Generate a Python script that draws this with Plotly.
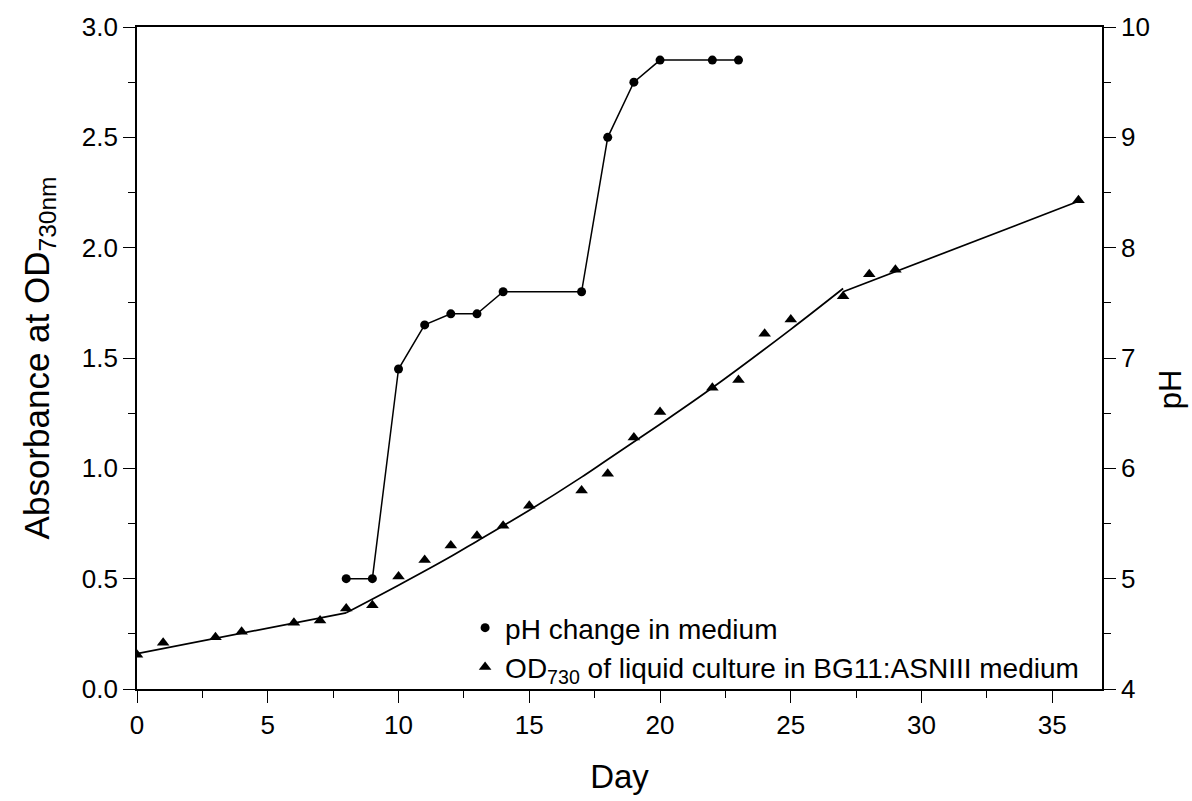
import plotly.graph_objects as go

# OD730 measurements (left axis)
od_day = [0, 1, 3, 4, 6, 7, 8, 9, 10, 11, 12, 13, 14, 15, 17, 18, 19, 20, 22, 23, 24, 25, 27, 28, 29, 36]
od_val = [0.155, 0.21, 0.235, 0.26, 0.30, 0.31, 0.365, 0.38, 0.51, 0.585, 0.65, 0.695, 0.74, 0.83,
          0.90, 0.975, 1.14, 1.255, 1.365, 1.40, 1.61, 1.675, 1.78, 1.88, 1.90, 2.215]

# fitted curve for OD730, in three pieces
fit1_day = [0, 8]
fit1_val = [0.16, 0.345]
fit2_day = [8, 10, 12, 13, 15, 17, 18, 20, 22, 25, 27]
fit2_val = [0.345, 0.47, 0.60, 0.67, 0.81, 0.96, 1.04, 1.20, 1.365, 1.63, 1.815]
fit3_day = [27, 36]
fit3_val = [1.80, 2.21]

# pH measurements (right axis)
ph_day = [8, 9, 10, 11, 12, 13, 14, 17, 18, 19, 20, 22, 23]
ph_val = [5.0, 5.0, 6.9, 7.3, 7.4, 7.4, 7.6, 7.6, 9.0, 9.5, 9.7, 9.7, 9.7]

FONT = "Liberation Sans, Arial, sans-serif"

fig = go.Figure()

for xs, ys, shp in [(fit1_day, fit1_val, "linear"), (fit2_day, fit2_val, "spline"), (fit3_day, fit3_val, "linear")]:
    fig.add_trace(go.Scatter(x=xs, y=ys, mode="lines", line=dict(color="black", width=1.7, shape=shp),
                             showlegend=False, hoverinfo="skip"))
fig.add_trace(go.Scatter(x=ph_day, y=ph_val, mode="lines", line=dict(color="black", width=1.5),
                         yaxis="y2", showlegend=False, hoverinfo="skip"))
fig.add_trace(go.Scatter(x=ph_day, y=ph_val, mode="markers", yaxis="y2",
                         marker=dict(symbol="circle", size=9, color="black"),
                         name="pH change in medium"))
fig.add_trace(go.Scatter(x=od_day, y=od_val, mode="markers",
                         marker=dict(symbol="triangle-up", size=11, color="black"),
                         name="OD<sub>730</sub> of liquid culture in BG11:ASNIII medium"))

axis_common = dict(showline=True, linecolor="black", linewidth=1.6, ticks="outside",
                   ticklen=12, tickwidth=1.4, tickcolor="black", showgrid=False, zeroline=False,
                   tickfont=dict(family=FONT, size=26, color="black"))
minor_common = dict(ticks="outside", ticklen=7, tickwidth=1.3, tickcolor="black")

fig.update_layout(
    width=1192, height=801,
    margin=dict(l=137, r=90, t=26, b=110),
    plot_bgcolor="white", paper_bgcolor="white",
    font=dict(family=FONT, color="black"),
    xaxis=dict(range=[0, 36.9], tickmode="linear", tick0=0, dtick=5,
               minor=dict(dtick=2.5, **minor_common),
               mirror=True,
               title=dict(text="Day", font=dict(family=FONT, size=33), standoff=26),
               **axis_common),
    yaxis=dict(range=[0, 3.0], tickmode="linear", tick0=0, dtick=0.5, tickformat=".1f",
               minor=dict(dtick=0.25, **minor_common),
               title=dict(text="Absorbance at OD<sub>730nm</sub>", font=dict(family=FONT, size=35), standoff=22),
               **axis_common),
    yaxis2=dict(range=[4, 10], overlaying="y", side="right", tickmode="linear", tick0=4, dtick=1,
                minor=dict(dtick=0.5, **minor_common),
                **axis_common),
    legend=dict(x=0.34, y=0.13, xanchor="left", yanchor="top", bgcolor="rgba(0,0,0,0)",
                font=dict(family=FONT, size=28, color="black"), tracegroupgap=0, itemsizing="trace"),
    annotations=[dict(text="pH", xref="paper", yref="paper", x=1.0705, y=0.453,
                      xanchor="center", yanchor="middle", textangle=-90, showarrow=False,
                      font=dict(family=FONT, size=31, color="black"))],
)

fig.write_html("out.html")
